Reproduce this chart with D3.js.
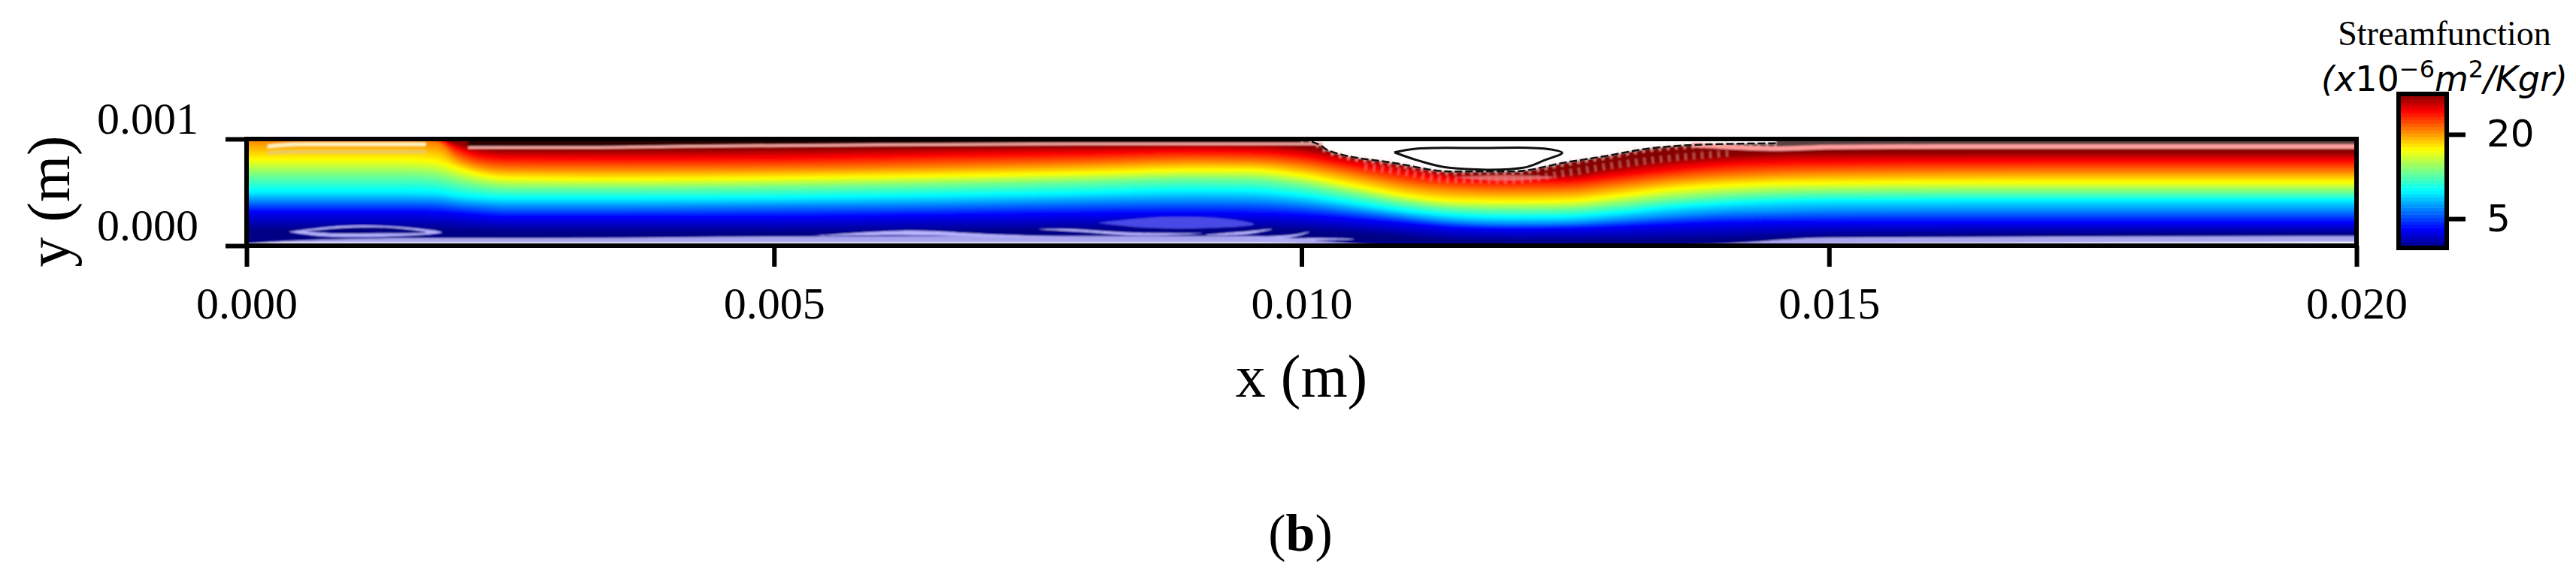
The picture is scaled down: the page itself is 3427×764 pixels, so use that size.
<!DOCTYPE html>
<html>
<head>
<meta charset="utf-8">
<script src="https://cdn.jsdelivr.net/npm/d3@7"></script>
<style>
  html, body { margin: 0; padding: 0; background: #fff; }
  text { font-family: "Liberation Serif", serif; fill: #000; }
</style>
</head>
<body>
<script>
var w = 3427, h = 764;

// stations along the channel, in mm
var stations = [0, 1, 1.5, 1.8, 2, 2.2, 2.5, 3.5, 5, 6.5, 8, 9, 9.5, 10, 10.5, 11, 11.5, 12, 12.5, 13, 13.5, 14, 14.5, 15, 17, 20];

// height (mm) of each streamfunction level at the stations
var level0  = [.14, .14, .14, .14, .13, .125, .12, .12, .115, .125, .14, .155, .15, .13, .105, .07, .04, .035, .035, .035, .04, .05, .07, .085, .10, .105];
var level3  = [.31, .31, .31, .305, .29, .275, .26, .26, .26, .275, .29, .295, .29, .275, .24, .20, .16, .15, .155, .17, .19, .205, .21, .21, .21, .21];
var level7  = [.42, .42, .42, .415, .395, .38, .365, .365, .375, .385, .41, .42, .415, .385, .33, .27, .22, .205, .21, .24, .275, .305, .315, .325, .33, .33];
var level9  = [.49, .49, .49, .485, .455, .44, .43, .43, .435, .455, .48, .50, .495, .455, .385, .315, .27, .255, .26, .295, .345, .38, .40, .41, .415, .415];
var level13 = [.66, .66, .66, .64, .60, .565, .54, .54, .55, .57, .60, .625, .62, .57, .485, .40, .35, .34, .345, .385, .435, .47, .49, .50, .505, .505];
var level17 = [.81, .81, .81, .79, .725, .67, .635, .625, .635, .655, .685, .71, .71, .66, .565, .47, .42, .415, .42, .47, .53, .565, .585, .59, .60, .60];
var level21 = [1, 1, 1, .97, .825, .755, .725, .72, .725, .745, .775, .80, .795, .755, .67, .575, .53, .515, .52, .57, .625, .66, .68, .69, .70, .70];
var level24 = [1, 1, 1, 1, .91, .84, .815, .81, .815, .84, .86, .88, .875, .84, .755, .67, .61, .60, .605, .655, .71, .755, .775, .78, .79, .79];
var level27 = [1, 1, 1, 1, .96, .915, .90, .90, .91, .925, .94, .955, .955, .925, .845, .755, .68, .65, .67, .745, .81, .845, .865, .875, .875, .875];

var levelValues = [0, 3, 7, 9.5, 13.5, 17.5, 21, 24, 27];
var levelCurves = [level0, level3, level7, level9, level13, level17, level21, level24, level27];

// recirculation above the bump
var lensX = [10, 10.18, 10.26, 10.88, 11.43, 12, 12.5, 12.88, 13.25, 13.74, 14.5];
var lensY = [1, .94, .89, .775, .695, .695, .78, .84, .905, .945, .96];
var hatchX = [10.6, 10.9, 11.4, 12, 12.5, 13, 13.5, 14.1];
var hatchY = [.74, .70, .62, .61, .68, .76, .82, .87];
var eddyX = [10.88, 11.1, 11.7, 12.3, 12.47, 12.3, 12.1, 11.4, 11.1, 10.88];
var eddyY = [.875, .91, .915, .91, .87, .80, .73, .73, .80, .875];
var blobTop = [[11.45, .64], [11.9, .66], [12.4, .64], [11.9, .61], [11.45, .64]];

// pale contour streaks near the walls
var topStreakX = [2.1, 3, 4.5, 6, 8, 9.5, 10.2];
var topStreakY = [.92, .92, .935, .945, .955, .955, .955];
var rightStreakX = [13.7, 14.5, 15, 16, 20];
var rightStreakY = [.945, .91, .925, .93, .93];
var inletStreakX = [.2, .5, 1, 1.7];
var inletStreakY = [.93, .95, .95, .95];
var inletStreak2Y = [.87, .88, .88, .88];

var wallX = [0, .5, 1.5, 2.5, 5, 8, 9.5, 10.5, 11, 13, 14, 15, 20];
var wallLavender = [.02, .05, .07, .07, .085, .09, .09, .02, 0, 0, .02, .075, .09];
var wallWhite = [.02, .03, .03, .03, .03, .03, .03, .01, 0, 0, 0, .02, .035];

// bottom eddies, closed outlines [x, y] in mm
var eddy1 = [[.4, .13], [.9, .185], [1.4, .18], [1.85, .125], [1.3, .085], [.7, .09], [.4, .13]];
var eddy1Hole = [[.55, .135], [1, .17], [1.4, .165], [1.7, .125], [1.2, .115], [.8, .115], [.55, .135]];
var eddy2 = [[5.36, .09], [6.27, .14], [7, .11], [7.9, .075], [7, .085], [6.2, .10], [5.36, .09]];
var eddy3 = [[7.47, .155], [7.8, .155], [8.45, .12], [9.06, .115], [8.45, .095], [7.9, .13], [7.47, .155]];
var eddy4 = [[8.07, .215], [8.7, .27], [9.3, .25], [9.55, .20], [9.1, .165], [8.5, .17], [8.07, .215]];
var eddy5 = [[9.06, .10], [9.43, .13], [9.72, .155], [9.45, .105], [9.06, .10]];
var eddy6 = [[9.3, .075], [9.9, .10], [10.08, .13], [9.9, .08], [9.3, .075]];
var eddy7 = [[9.6, .05], [10.1, .07], [10.5, .06], [10.1, .05], [9.6, .05]];
var eddyShapes = [eddy2, eddy3, eddy5, eddy6, eddy7];

// jet colormap stops
var jetStops = [0, .11, .125, .375, .64, .89, 1];
var jetColors = ["#00007f", "#0000f1", "#0000ff", "#00ffff", "#ffff00", "#ff0000", "#7f0000"];

var xTicks = [0, 0.005, 0.01, 0.015, 0.02];
var yTicks = [0, 0.001];
var barTicks = [5, 20];
var barDomain = [-0.2, 27.2];

var margin = { left: 328, right: 3135, top: 185, bottom: 327 };

var xScale = d3.scaleLinear().domain([0, 0.02]).range([margin.left, margin.right]);
var yScale = d3.scaleLinear().domain([0, 0.001]).range([margin.bottom, margin.top]);
var barScale = d3.scaleLinear().domain(barDomain).range([330, 125]);
var jet = d3.scaleLinear().domain(jetStops).range(jetColors);
var color = function(v) {
  return jet((v - barDomain[0]) / (barDomain[1] - barDomain[0]));
};

var svg = d3.select("body").append("svg")
  .attr("width", w)
  .attr("height", h)
  .style("display", "block");

svg.append("clipPath").attr("id", "plot")
  .append("rect")
  .attr("x", margin.left)
  .attr("y", margin.top)
  .attr("width", margin.right - margin.left)
  .attr("height", margin.bottom - margin.top);

// the source is a soft raster, a small blur takes the edge off the streaks
svg.append("filter").attr("id", "soft")
  .attr("x", "-1%").attr("y", "-10%").attr("width", "102%").attr("height", "120%")
  .append("feGaussianBlur").attr("stdDeviation", 1.3);

var clipped = svg.append("g").attr("clip-path", "url(#plot)");
var field = clipped.append("g").attr("filter", "url(#soft)");

var px = function(mm) { return xScale(mm / 1000); };
var py = function(mm) { return yScale(mm / 1000); };

var line = d3.line()
  .x(function(d) { return px(d[0]); })
  .y(function(d) { return py(d[1]); })
  .curve(d3.curveMonotoneX);
var smooth = d3.line()
  .x(function(d) { return px(d[0]); })
  .y(function(d) { return py(d[1]); })
  .curve(d3.curveCatmullRom);
var areaAbove = d3.area()
  .x(function(d) { return px(d[0]); })
  .y0(py(1.02))
  .y1(function(d) { return py(d[1]); })
  .curve(d3.curveMonotoneX);
var areaBelow = d3.area()
  .x(function(d) { return px(d[0]); })
  .y0(py(-0.02))
  .y1(function(d) { return py(d[1]); })
  .curve(d3.curveMonotoneX);

// filled contours, lowest first, each one paints everything above its curve
field.append("rect")
  .attr("x", margin.left)
  .attr("y", margin.top)
  .attr("width", margin.right - margin.left)
  .attr("height", margin.bottom - margin.top)
  .attr("fill", color(0));

levelValues.slice(0, -1).forEach(function(v, k) {
  var next = levelValues[k + 1];
  var steps = Math.ceil((next - v) / 0.2);
  d3.range(steps).forEach(function(s) {
    var f = s / steps;
    var val = v + (next - v) * f;
    var pts = stations.map(function(x, i) {
      return [x, levelCurves[k][i] + (levelCurves[k + 1][i] - levelCurves[k][i]) * f];
    });
    field.append("path")
      .attr("d", areaAbove(pts))
      .attr("fill", color(val));
  });
});
field.append("path")
  .attr("d", areaAbove(stations.map(function(x, i) { return [x, level27[i]]; })))
  .attr("fill", color(27));

var zip = function(xs, ys) { return xs.map(function(x, i) { return [x, ys[i]]; }); };

// dark band under the upper wall
field.append("path")
  .attr("d", areaAbove(zip(topStreakX, topStreakY)))
  .attr("fill", "#2a0606");
field.append("path")
  .attr("d", areaAbove(zip(rightStreakX, rightStreakY)))
  .attr("fill", "#5a4040");

// white recirculation zone with its contours
field.append("path")
  .attr("d", areaAbove(zip(lensX, lensY)))
  .attr("fill", "#fff");
field.append("path")
  .attr("d", line(zip(hatchX, hatchY)))
  .attr("fill", "none")
  .attr("stroke", "#ffb0a8")
  .attr("stroke-width", 9)
  .attr("stroke-dasharray", "3 8")
  .attr("opacity", 0.45);
field.append("path")
  .attr("d", smooth(blobTop))
  .attr("fill", "#f08080")
  .attr("opacity", 0.8);
field.append("path")
  .attr("d", line(zip(lensX, lensY)))
  .attr("fill", "none")
  .attr("stroke", "#ffd8d0")
  .attr("stroke-width", 9)
  .attr("stroke-dasharray", "3 8")
  .attr("opacity", 0.65);

// pale streaks
field.append("path").attr("d", line(zip(topStreakX, topStreakY)))
  .attr("fill", "none").attr("stroke", "#f4a6a0").attr("stroke-width", 3.5);
field.append("path").attr("d", line(zip(rightStreakX, rightStreakY)))
  .attr("fill", "none").attr("stroke", "#ff9d9d").attr("stroke-width", 6);
field.append("path").attr("d", line(zip(inletStreakX, inletStreakY)))
  .attr("fill", "none").attr("stroke", "#fbf3b8").attr("stroke-width", 5);
field.append("path").attr("d", line(zip(inletStreakX, inletStreak2Y)))
  .attr("fill", "none").attr("stroke", "#eecb58").attr("stroke-width", 5);

// lower wall film
field.append("path")
  .attr("d", areaBelow(zip(wallX, wallLavender)))
  .attr("fill", "#a8a4ee");
field.append("path")
  .attr("d", areaBelow(zip(wallX, wallWhite)))
  .attr("fill", "#fff");

field.append("path").attr("d", smooth(eddy4)).attr("fill", "#4848e6");
field.append("path").attr("d", smooth(eddy1)).attr("fill", "#b4b0ff");
field.append("path").attr("d", smooth(eddy1Hole)).attr("fill", "#00007f");
eddyShapes.forEach(function(e) {
  field.append("path")
    .attr("d", smooth(e))
    .attr("fill", "#b8b4ff");
});

// black contours stay sharp, on top of the blur
clipped.append("path")
  .attr("d", line(zip(lensX, lensY)))
  .attr("fill", "none")
  .attr("stroke", "#111")
  .attr("stroke-width", 2.5)
  .attr("stroke-dasharray", "10 4");
clipped.append("path")
  .attr("d", smooth(zip(eddyX, eddyY)))
  .attr("fill", "#fff")
  .attr("stroke", "#111")
  .attr("stroke-width", 3);

// axes
var styleAxis = function(g) {
  g.select(".domain").remove();
  g.selectAll("line").attr("stroke", "#000").attr("stroke-width", 6);
  g.selectAll("text").attr("font-size", 60).style("font-family", '"Liberation Serif", serif');
};

svg.append("g")
  .attr("transform", "translate(0," + margin.bottom + ")")
  .call(d3.axisBottom(xScale).tickValues(xTicks).tickFormat(d3.format(".3f")).tickSize(28).tickPadding(26))
  .call(styleAxis);

svg.append("g")
  .attr("transform", "translate(" + margin.left + ",0)")
  .call(d3.axisLeft(yScale).tickValues(yTicks).tickFormat(d3.format(".3f")).tickSize(28).tickPadding(36))
  .call(styleAxis)
  .selectAll("text").attr("dy", "-0.12em");

svg.append("rect")
  .attr("x", margin.left)
  .attr("y", margin.top)
  .attr("width", margin.right - margin.left)
  .attr("height", margin.bottom - margin.top)
  .attr("fill", "none")
  .attr("stroke", "#000")
  .attr("stroke-width", 6);

svg.append("text")
  .attr("x", (margin.left + margin.right) / 2)
  .attr("y", 528)
  .attr("text-anchor", "middle")
  .attr("font-size", 80)
  .text("x (m)");

svg.append("text")
  .attr("transform", "translate(92,268) rotate(-90)")
  .attr("text-anchor", "middle")
  .attr("font-size", 80)
  .text("y (m)");

svg.append("text")
  .attr("x", 1730)
  .attr("y", 733)
  .attr("text-anchor", "middle")
  .attr("font-size", 70)
  .html('(<tspan font-weight="bold">b</tspan>)');

// colorbar
var barX = 3191, barW = 64;
var bands = d3.range(barDomain[0], barDomain[1], 0.6);
svg.append("g").selectAll("rect")
  .data(bands)
  .enter()
  .append("rect")
  .attr("x", barX)
  .attr("y", function(d) { return barScale(d + 0.6); })
  .attr("width", barW)
  .attr("height", function(d) { return barScale(d) - barScale(d + 0.6) + 0.5; })
  .attr("fill", function(d) { return color(d + 0.3); });

svg.append("rect")
  .attr("x", barX)
  .attr("y", barScale(barDomain[1]))
  .attr("width", barW)
  .attr("height", barScale(barDomain[0]) - barScale(barDomain[1]))
  .attr("fill", "none")
  .attr("stroke", "#000")
  .attr("stroke-width", 6);

svg.append("g")
  .attr("transform", "translate(" + (barX + barW) + ",0)")
  .call(d3.axisRight(barScale).tickValues(barTicks).tickSize(25).tickPadding(28))
  .call(function(g) {
    g.select(".domain").remove();
    g.selectAll("line").attr("stroke", "#000").attr("stroke-width", 6);
    g.selectAll("text").attr("font-size", 50).style("font-family", '"DejaVu Sans", sans-serif');
  });

svg.append("text")
  .attr("x", 3252)
  .attr("y", 60)
  .attr("text-anchor", "middle")
  .attr("font-size", 46)
  .text("Streamfunction");

svg.append("text")
  .attr("x", 3252)
  .attr("y", 121)
  .attr("text-anchor", "middle")
  .attr("font-size", 46)
  .style("font-family", '"DejaVu Sans", sans-serif')
  .style("font-style", "italic")
  .html('(x<tspan font-style="normal">10</tspan><tspan dy="-18" font-size="32" font-style="normal">\u22126</tspan><tspan dy="18">m</tspan><tspan dy="-18" font-size="32" font-style="normal">2</tspan><tspan dy="18">/Kgr)</tspan>');
</script>
</body>
</html>
